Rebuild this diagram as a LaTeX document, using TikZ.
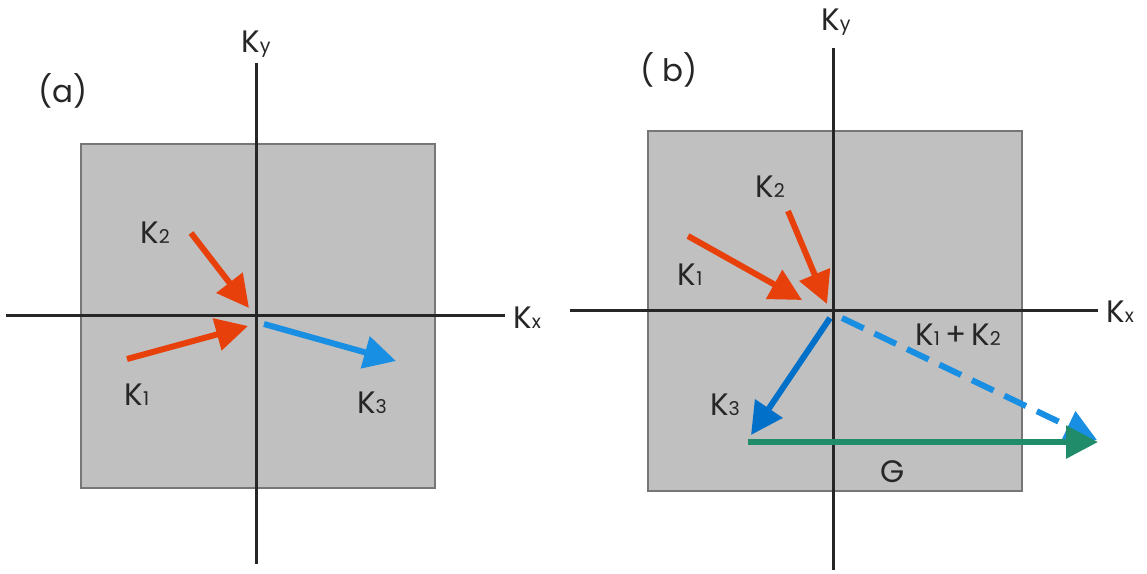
\documentclass[tikz,border=0pt]{standalone}
\usepackage{fontspec}
\setmainfont{Poppins}
\usetikzlibrary{arrows.meta}
\definecolor{kred}{RGB}{232,64,10}
\definecolor{kblue}{RGB}{24,143,226}
\definecolor{kdblue}{RGB}{0,112,200}
\definecolor{kgreen}{RGB}{32,140,106}
\definecolor{zonegray}{RGB}{192,192,192}
\definecolor{zoneline}{RGB}{118,118,118}
\newcommand{\Kn}[1]{K{\fontsize{19}{19}\selectfont #1}}
\tikzset{
  zone/.style={fill=zonegray,draw=zoneline,line width=1.5pt},
  axis/.style={line width=3pt,draw=black!85},
  lbl/.style={font=\fontsize{31}{33}\selectfont,text=black!85,inner sep=0pt},
  kvec/.style={-{Triangle[length=32pt,width=32pt]},line width=6pt},
  kdash/.style={kvec,dash pattern=on 24pt off 12pt},
}
\begin{document}
\begin{tikzpicture}[x=1pt,y=-1pt]
  \useasboundingbox (0,0) rectangle (1147,573);
  % panel (a)
  \draw[zone] (81,144) rectangle (435,488);
  \coordinate (ay0) at (256,63);
  \coordinate (ay1) at (256,564);
  \coordinate (ax0) at (6,315);
  \coordinate (ax1) at (505,315);
  \draw[axis] (ay0) -- (ay1);
  \draw[axis] (ax0) -- (ax1);
  \node[lbl] (aky) at (256,44) {\Kn{y}};
  \node[lbl,anchor=west] (akx) at (513,318) {\Kn{x}};
  \node[lbl] (atag) at (63,91) {(a)};
  \node[lbl] (ak2) at (155,233) {\Kn{2}};
  \node[lbl] (ak1) at (137,395) {\Kn{1}};
  \node[lbl] (ak3) at (372,403) {\Kn{3}};
  \coordinate (ak2s) at (191,233);
  \coordinate (ak2e) at (249,308);
  \coordinate (ak1s) at (127,359);
  \coordinate (ak1e) at (248,326);
  \coordinate (ak3s) at (264,324);
  \coordinate (ak3e) at (396,361);
  \draw[kvec,kred] (ak2s) -- (ak2e);
  \draw[kvec,kred] (ak1s) -- (ak1e);
  \draw[kvec,kblue] (ak3s) -- (ak3e);
  % panel (b)
  \draw[zone] (648,131) rectangle (1022,491);
  \coordinate (by0) at (833,48);
  \coordinate (by1) at (833,570);
  \coordinate (bx0) at (570,310);
  \coordinate (bx1) at (1098,310);
  \draw[axis] (by0) -- (by1);
  \draw[axis] (bx0) -- (bx1);
  \node[lbl] (bky) at (836,22) {\Kn{y}};
  \node[lbl,anchor=west] (bkx) at (1106,312) {\Kn{x}};
  \node[lbl] (btag) at (669,70) {( b)};
  \node[lbl] (bk2) at (770,187) {\Kn{2}};
  \node[lbl] (bk1) at (690,275) {\Kn{1}};
  \node[lbl] (bk3) at (725,405) {\Kn{3}};
  \node[lbl] (bsum) at (958,335) {\Kn{1}\,+\,\Kn{2}};
  \node[lbl] (bg) at (893,472) {G};
  \coordinate (bk2s) at (788,211);
  \coordinate (bk2e) at (827,304);
  \coordinate (bk1s) at (688,236);
  \coordinate (bk1e) at (802,300);
  \coordinate (bk3s) at (830,318);
  \coordinate (bk3e) at (751,435);
  \coordinate (bsums) at (842,318);
  \coordinate (bsume) at (1097,440);
  \coordinate (bgs) at (748,442);
  \coordinate (bge) at (1098,442);
  \draw[kvec,kred] (bk2s) -- (bk2e);
  \draw[kvec,kred] (bk1s) -- (bk1e);
  \draw[kvec,kdblue] (bk3s) -- (bk3e);
  \draw[kdash,kblue] (bsums) -- (bsume);
  \draw[kvec,kgreen] (bgs) -- (bge);
\end{tikzpicture}
\end{document}
